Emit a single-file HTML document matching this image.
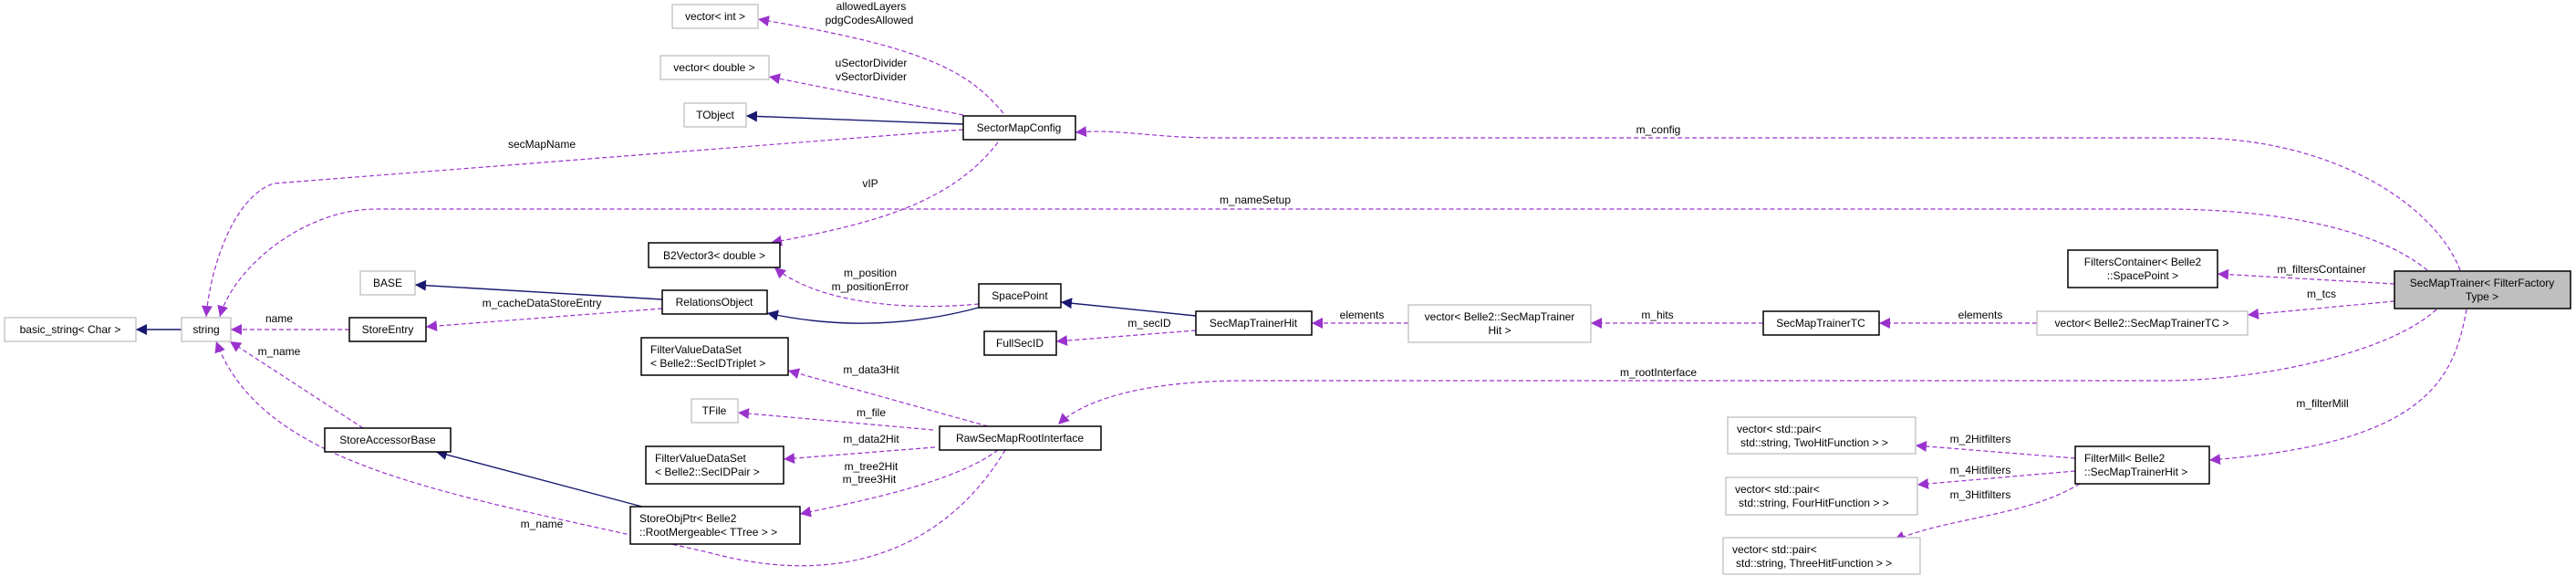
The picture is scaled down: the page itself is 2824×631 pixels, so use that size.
<!DOCTYPE html>
<html><head><meta charset="utf-8"><style>
html,body{margin:0;padding:0;background:#fff;}
svg{display:block;}
text{font-family:"Liberation Sans",sans-serif;font-size:12px;fill:#000;}
.b{fill:#fff;stroke:#000;stroke-width:1.5;}
.g{fill:#fff;stroke:#bfbfbf;stroke-width:1.3;}
.d{fill:none;stroke:#9a32cd;stroke-width:1.2;stroke-dasharray:5,3;}
.s{fill:none;stroke:#191970;stroke-width:1.4;}
</style></head><body>
<svg width="2824" height="631" viewBox="0 0 2824 631" xmlns="http://www.w3.org/2000/svg">
<defs>
<marker id="pa" viewBox="0 0 10 10" refX="10" refY="5" markerWidth="12" markerHeight="12" markerUnits="userSpaceOnUse" orient="auto"><path d="M0,0 L10,5 L0,10 z" fill="#9a32cd"/></marker>
<marker id="na" viewBox="0 0 10 10" refX="10" refY="5" markerWidth="12" markerHeight="12" markerUnits="userSpaceOnUse" orient="auto"><path d="M0,0 L10,5 L0,10 z" fill="#191970"/></marker>
</defs>
<g transform="translate(0,-4)">
<!-- edges -->
<path class="s" d="M199,365 L149,365" marker-end="url(#na)"/>
<path class="d" d="M383,365 L253,365" marker-end="url(#pa)"/>
<text x="306" y="357" text-anchor="middle">name</text>
<path class="d" d="M726,342 L467,362" marker-end="url(#pa)"/>
<text x="594" y="340" text-anchor="middle">m_cacheDataStoreEntry</text>
<path class="s" d="M726,332 L455,316" marker-end="url(#na)"/>
<path class="s" d="M1073,341 Q956,372 841,347" marker-end="url(#na)"/>
<path class="d" d="M1073,337 C990,345 895,335 849,297" marker-end="url(#pa)"/>
<text x="954" y="307" text-anchor="middle">m_position</text>
<text x="954" y="322" text-anchor="middle">m_positionError</text>
<path class="d" d="M1094,160 C1040,230 950,250 845,270" marker-end="url(#pa)"/>
<text x="954" y="209" text-anchor="middle">vIP</text>
<path class="s" d="M1056,140 L818,131" marker-end="url(#na)"/>
<path class="d" d="M1056,130 L843,88" marker-end="url(#pa)"/>
<text x="955" y="77" text-anchor="middle">uSectorDivider</text>
<text x="955" y="92" text-anchor="middle">vSectorDivider</text>
<path class="d" d="M1100,128 C1060,80 1010,55 831,25" marker-end="url(#pa)"/>
<text x="955" y="15" text-anchor="middle">allowedLayers</text>
<text x="953" y="30" text-anchor="middle">pdgCodesAllowed</text>
<path class="d" d="M1056,146 L300,205 C255,220 230,300 226,351" marker-end="url(#pa)"/>
<text x="594" y="166" text-anchor="middle">secMapName</text>
<path class="d" d="M2661,300 C2600,250 2480,233 2371,233 L413,233 C330,233 255,300 241,351" marker-end="url(#pa)"/>
<text x="1376" y="227" text-anchor="middle">m_nameSetup</text>
<path class="d" d="M2697,300 C2670,230 2560,155 2402,155 L1335,155 C1260,155 1230,145 1179,149" marker-end="url(#pa)"/>
<text x="1818" y="150" text-anchor="middle">m_config</text>
<path class="d" d="M2625,315 L2431,304" marker-end="url(#pa)"/>
<text x="2545" y="303" text-anchor="middle">m_filtersContainer</text>
<path class="d" d="M2625,334 L2464,349" marker-end="url(#pa)"/>
<text x="2545" y="330" text-anchor="middle">m_tcs</text>
<path class="d" d="M2233,358 L2060,358" marker-end="url(#pa)"/>
<text x="2171" y="353" text-anchor="middle">elements</text>
<path class="d" d="M1933,358 L1744,358" marker-end="url(#pa)"/>
<text x="1817" y="353" text-anchor="middle">m_hits</text>
<path class="d" d="M1544,358 L1438,358" marker-end="url(#pa)"/>
<text x="1493" y="353" text-anchor="middle">elements</text>
<path class="d" d="M1311,366 L1158,378" marker-end="url(#pa)"/>
<text x="1260" y="362" text-anchor="middle">m_secID</text>
<path class="s" d="M1311,350 L1163,335" marker-end="url(#na)"/>
<path class="d" d="M2671,343 C2620,390 2480,421 2371,421 L1366,421 C1260,421 1190,440 1160,469" marker-end="url(#pa)"/>
<text x="1818" y="416" text-anchor="middle">m_rootInterface</text>
<path class="d" d="M2704,343 C2690,420 2660,490 2422,508" marker-end="url(#pa)"/>
<text x="2546" y="450" text-anchor="middle">m_filterMill</text>
<path class="d" d="M2275,506 L2100,492" marker-end="url(#pa)"/>
<text x="2171" y="489" text-anchor="middle">m_2Hitfilters</text>
<path class="d" d="M2275,520 L2102,535" marker-end="url(#pa)"/>
<text x="2171" y="523" text-anchor="middle">m_4Hitfilters</text>
<path class="d" d="M2280,534 C2220,570 2140,570 2076,596" marker-end="url(#pa)"/>
<text x="2171" y="550" text-anchor="middle">m_3Hitfilters</text>
<path class="d" d="M1083,471 L864,410" marker-end="url(#pa)"/>
<text x="955" y="413" text-anchor="middle">m_data3Hit</text>
<path class="d" d="M1023,475 L809,456" marker-end="url(#pa)"/>
<text x="955" y="460" text-anchor="middle">m_file</text>
<path class="d" d="M1025,494 L859,507" marker-end="url(#pa)"/>
<text x="955" y="489" text-anchor="middle">m_data2Hit</text>
<path class="d" d="M1094,497 C1050,530 960,550 877,567" marker-end="url(#pa)"/>
<text x="955" y="519" text-anchor="middle">m_tree2Hit</text>
<path class="d" d="M1102,497 C1040,600 930,650 780,610 C500,545 290,520 237,378" marker-end="url(#pa)"/>
<text x="594" y="582" text-anchor="middle">m_name</text>
<text x="953" y="533" text-anchor="middle">m_tree3Hit</text>
<path class="d" d="M398,473 L252,378" marker-end="url(#pa)"/>
<text x="306" y="393" text-anchor="middle">m_name</text>
<path class="s" d="M704,559 L478,499" marker-end="url(#na)"/>

<!-- nodes -->
<rect class="g" x="737" y="9" width="94" height="26"/><text x="784" y="26" text-anchor="middle">vector&lt; int &gt;</text>
<rect class="g" x="724" y="65" width="119" height="26"/><text x="783" y="82" text-anchor="middle">vector&lt; double &gt;</text>
<rect class="g" x="750" y="117" width="68" height="26"/><text x="784" y="134" text-anchor="middle">TObject</text>
<rect class="b" x="1056" y="131" width="123" height="26"/><text x="1117" y="148" text-anchor="middle">SectorMapConfig</text>
<rect class="b" x="711" y="270" width="144" height="27"/><text x="783" y="288" text-anchor="middle">B2Vector3&lt; double &gt;</text>
<rect class="g" x="395" y="301" width="60" height="26"/><text x="425" y="318" text-anchor="middle">BASE</text>
<rect class="b" x="726" y="322" width="115" height="26"/><text x="783" y="339" text-anchor="middle">RelationsObject</text>
<rect class="b" x="1073" y="315" width="90" height="26"/><text x="1118" y="332" text-anchor="middle">SpacePoint</text>
<rect class="g" x="5" y="352" width="144" height="26"/><text x="77" y="369" text-anchor="middle">basic_string&lt; Char &gt;</text>
<rect class="g" x="199" y="352" width="54" height="26"/><text x="226" y="369" text-anchor="middle">string</text>
<rect class="b" x="383" y="352" width="84" height="26"/><text x="425" y="369" text-anchor="middle">StoreEntry</text>
<rect class="b" x="1079" y="367" width="79" height="26"/><text x="1118" y="384" text-anchor="middle">FullSecID</text>
<rect class="b" x="703" y="374" width="161" height="41"/><text x="713" y="391">FilterValueDataSet</text><text x="713" y="406">&lt; Belle2::SecIDTriplet &gt;</text>
<rect class="g" x="758" y="441" width="51" height="26"/><text x="783" y="458" text-anchor="middle">TFile</text>
<rect class="b" x="1030" y="471" width="177" height="26"/><text x="1118" y="488" text-anchor="middle">RawSecMapRootInterface</text>
<rect class="b" x="356" y="473" width="138" height="26"/><text x="425" y="490" text-anchor="middle">StoreAccessorBase</text>
<rect class="b" x="708" y="493" width="151" height="41"/><text x="718" y="510">FilterValueDataSet</text><text x="718" y="525">&lt; Belle2::SecIDPair &gt;</text>
<rect class="b" x="691" y="559" width="186" height="41"/><text x="701" y="576">StoreObjPtr&lt; Belle2</text><text x="701" y="591">::RootMergeable&lt; TTree &gt; &gt;</text>
<rect class="b" x="1311" y="345" width="127" height="26"/><text x="1374" y="362" text-anchor="middle">SecMapTrainerHit</text>
<rect class="g" x="1544" y="338" width="200" height="41"/><text x="1644" y="355" text-anchor="middle">vector&lt; Belle2::SecMapTrainer</text><text x="1644" y="370" text-anchor="middle">Hit &gt;</text>
<rect class="b" x="1933" y="345" width="127" height="26"/><text x="1996" y="362" text-anchor="middle">SecMapTrainerTC</text>
<rect class="g" x="2233" y="345" width="231" height="26"/><text x="2348" y="362" text-anchor="middle">vector&lt; Belle2::SecMapTrainerTC &gt;</text>
<rect class="b" x="2267" y="278" width="164" height="41"/><text x="2349" y="295" text-anchor="middle">FiltersContainer&lt; Belle2</text><text x="2349" y="310" text-anchor="middle">::SpacePoint &gt;</text>
<rect x="2625" y="301" width="193" height="41" fill="#bfbfbf" stroke="#000" stroke-width="1.5"/><text x="2721" y="318" text-anchor="middle">SecMapTrainer&lt; FilterFactory</text><text x="2721" y="333" text-anchor="middle">Type &gt;</text>
<rect class="g" x="1894" y="461" width="206" height="40"/><text x="1904" y="478">vector&lt; std::pair&lt;</text><text x="1908" y="493">std::string, TwoHitFunction &gt; &gt;</text>
<rect class="g" x="1892" y="527" width="210" height="41"/><text x="1902" y="544">vector&lt; std::pair&lt;</text><text x="1906" y="559">std::string, FourHitFunction &gt; &gt;</text>
<rect class="g" x="1889" y="593" width="216" height="40"/><text x="1899" y="610">vector&lt; std::pair&lt;</text><text x="1903" y="625">std::string, ThreeHitFunction &gt; &gt;</text>
<rect class="b" x="2275" y="493" width="147" height="41"/><text x="2285" y="510">FilterMill&lt; Belle2</text><text x="2285" y="525">::SecMapTrainerHit &gt;</text>
</g>
</svg>
</body></html>
